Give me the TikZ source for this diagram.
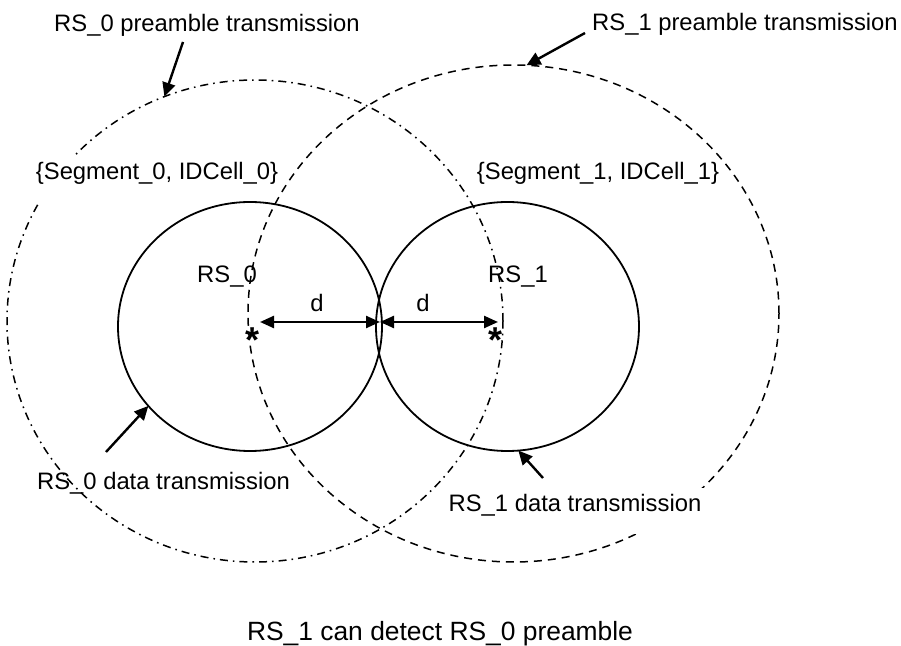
\documentclass[tikz,border=0pt]{standalone}
\usepackage{fontspec}
\setmainfont{Liberation Sans}
\usetikzlibrary{shapes.geometric,arrows.meta}
\begin{document}
\begin{tikzpicture}[x=0.5pt,y=-0.5pt,
  lbl/.style={font=\fontsize{11.9}{14}\selectfont, inner sep=0pt, anchor=base},
  boxlbl/.style={lbl, fill=white, inner xsep=3pt, text height=12pt, text depth=11pt},
  ring/.style={ellipse, draw, inner sep=0pt, outer sep=0pt},
  datacell/.style={ring, line width=0.9pt},
  preone/.style={ring, line width=0.75pt, dash pattern=on 4pt off 3pt},
  prezero/.style={ring, line width=0.75pt, dash pattern=on 4pt off 2.5pt on 0.8pt off 2.5pt},
  pointer/.style={line width=1.2pt, -{Triangle[length=7pt,width=6.5pt]}},
  span/.style={line width=1.2pt, {Triangle[length=7pt,width=6pt]}-{Triangle[length=7pt,width=6pt]}},
  star/.style={font=\fontsize{18}{20}\selectfont\bfseries, inner sep=0pt, anchor=base}
]
\useasboundingbox (0,0) rectangle (901,646);

% RS_0 preamble range (dash-dot)
\node[prezero, minimum width=248pt, minimum height=241pt] (P0) at (255,321) {};
\node[boxlbl] (seg0) at (157,180) {\{Segment\_0, IDCell\_0\}};
% RS_1 preamble range (dashed)
\node[preone, minimum width=265.5pt, minimum height=248.5pt] (P1) at (513.5,313.5) {};
% data ranges
\node[datacell, minimum width=132pt, minimum height=124.5pt] (c0) at (250,326.5) {};
\node[datacell, minimum width=131.5pt, minimum height=124.5pt] (c1) at (507.5,326.5) {};

\node[boxlbl] (d1lbl) at (575,512) {RS\_1 data transmission};
\node[lbl] (d0lbl) at (163.5,490) {RS\_0 data transmission};
\node[lbl] (p0lbl) at (207,32) {RS\_0 preamble transmission};
\node[lbl] (p1lbl) at (745,31) {RS\_1 preamble transmission};
\node[lbl] (seg1) at (598,180) {\{Segment\_1, IDCell\_1\}};
\node[lbl] (rs0) at (227,283) {RS\_0};
\node[lbl] (rs1) at (518,283) {RS\_1};
\node[lbl] (dl) at (317,312) {d};
\node[lbl] (dr) at (423,312) {d};
\node[star] (s0) at (253,353) {*};
\node[star] (s1) at (496,353) {*};
\node[lbl, font=\fontsize{13.2}{15}\selectfont] (note) at (440,641) {RS\_1 can detect RS\_0 preamble};

% arrows
\coordinate (t0) at (183,42);
\coordinate (t1) at (585,33);
\coordinate (t2) at (106,452);
\coordinate (t3) at (543,478);
\draw[pointer] (t0) -- (P0.112.6);
\draw[pointer] (t1) -- (P1.87.6);
\draw[pointer] (t2) -- (c0.218);
\draw[pointer] (t3) -- (c1.275);

\coordinate (q0) at (260,322);
\coordinate (qm) at (380,322);
\coordinate (q1) at (498,322);
\draw[span] (q0) -- (qm);
\draw[span] (qm) -- (q1);
\end{tikzpicture}
\end{document}
